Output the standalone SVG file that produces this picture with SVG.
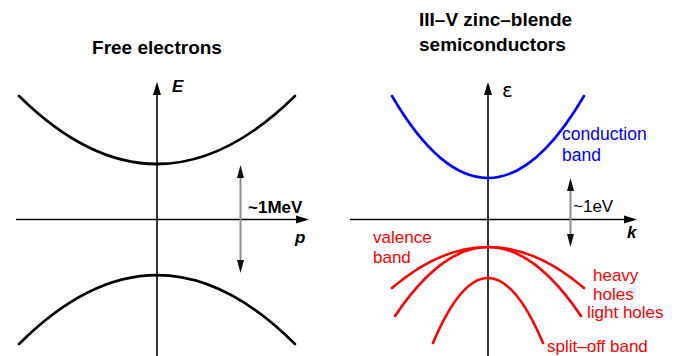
<svg xmlns="http://www.w3.org/2000/svg" width="675" height="356" viewBox="0 0 675 356">
<defs>
<style>
.t{font-family:"Liberation Sans",Arial,sans-serif}
.title{font-size:19px;font-weight:bold;fill:#000}
.ax{font-size:17px;font-weight:bold;font-style:italic;fill:#000}
.lab{font-size:17px;fill:#000}
.blue{font-size:17.5px;fill:#0000ff}
.red{font-size:17px;fill:#ff0000}
.axis{stroke:#000;stroke-width:1.6;fill:none;marker-end:url(#ah)}
.dbl{stroke:#8c8c8c;stroke-width:2;fill:none;marker-start:url(#dh);marker-end:url(#dh)}
.band{fill:none;stroke-width:2.6;stroke-linecap:round}
</style>
<marker id="ah" markerUnits="userSpaceOnUse" markerWidth="14" markerHeight="9" refX="3" refY="4" orient="auto" overflow="visible">
<path d="M0,0 L13,4 L0,8 z" fill="#000"/>
</marker>
<marker id="dh" markerUnits="userSpaceOnUse" markerWidth="14" markerHeight="8" refX="3" refY="3.5" orient="auto-start-reverse" overflow="visible">
<path d="M0,0 L13,3.5 L0,7 z" fill="#111"/>
</marker>
</defs>
<rect width="675" height="356" fill="#fff"/>

<g id="connectors">
<line class="axis" x1="16" y1="219.5" x2="299" y2="219.5"/>
<line class="axis" x1="157" y1="356" x2="157" y2="92"/>
<line class="axis" x1="350" y1="219.5" x2="627" y2="219.5"/>
<line class="axis" x1="488" y1="356" x2="488" y2="92"/>
<line class="dbl" x1="240.5" y1="175" x2="240.5" y2="263"/>
<line class="dbl" x1="570.5" y1="188" x2="570.5" y2="237"/>
</g>

<g id="free-electrons">
<text class="t title" x="157" y="54" text-anchor="middle">Free electrons</text>
<text class="t ax" x="172" y="92">E</text>
<text class="t ax" x="295" y="243">p</text>
<text class="t lab" x="248" y="213" font-weight="bold">~1MeV</text>
<path id="electron-band" class="band" stroke="#000" d="M19,96 Q157,232 295,96"/>
<path id="positron-band" class="band" stroke="#000" d="M19,344 Q157,206 295,344"/>
</g>

<g id="semiconductors">
<text class="t title" x="419" y="26">III–V zinc–blende</text>
<text class="t title" x="419" y="50.5">semiconductors</text>
<text x="502" y="97" font-family="DejaVu Sans, sans-serif" font-size="20" fill="#000">ε</text>
<text class="t ax" x="627" y="238">k</text>
<text class="t lab" x="573" y="212" font-size="18">~1eV</text>
</g>

<g id="conduction-band">
<path class="band" stroke="#0000ff" d="M392,96 Q488,260 584,96"/>
<text class="t blue" x="562" y="140">conduction</text>
<text class="t blue" x="562" y="161">band</text>
</g>

<g id="heavy-holes">
<path class="band" stroke="#ff0000" d="M392,288 Q488,206 584,288"/>
<text class="t red" x="593" y="281">heavy</text>
<text class="t red" x="593" y="300">holes</text>
</g>

<g id="light-holes">
<path class="band" stroke="#ff0000" d="M395,316 Q488,178 581,316"/>
<text class="t red" x="587" y="318">light holes</text>
</g>

<g id="split-off-band">
<path class="band" stroke="#ff0000" d="M433,343 Q488,213 543,343"/>
<text class="t red" x="547" y="352">split–off band</text>
</g>

<g id="valence-band">
<text class="t red" x="373" y="243">valence</text>
<text class="t red" x="373" y="263">band</text>
</g>
</svg>
